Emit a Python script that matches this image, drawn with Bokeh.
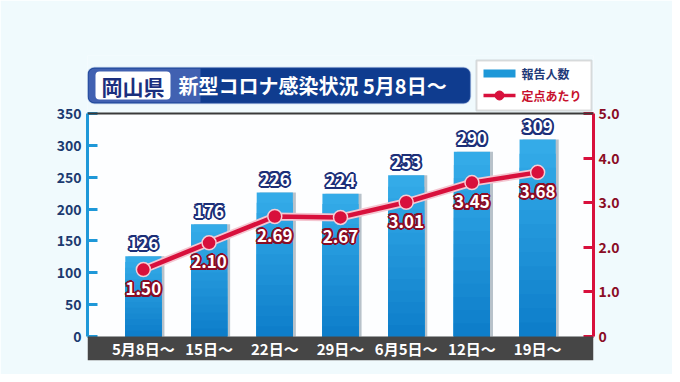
from bokeh.plotting import figure
from bokeh.models import (Range1d, LinearAxis, FixedTicker, BoxAnnotation, Label,
                          Span, ColumnDataSource, NumeralTickFormatter)
from bokeh.core.properties import value
from bokeh.embed import file_html
from bokeh.resources import INLINE

# ---------------- data ----------------
categories = ["5月8日～", "15日～", "22日～", "29日～", "6月5日～", "12日～", "19日～"]
reports = [126, 176, 226, 224, 253, 290, 309]          # 報告人数
per_site = [1.50, 2.10, 2.69, 2.67, 3.01, 3.45, 3.68]   # 定点あたり
left_ticks = [0, 50, 100, 150, 200, 250, 300, 350]
right_ticks = [0, 1.0, 2.0, 3.0, 4.0, 5.0]

FONT = "Noto Sans CJK JP"
NAVY = "#1c2f78"
BLUE = "#1e98d8"
RED = "#d8103c"
DARKRED = "#8a0c24"

# ---------------- layout (image pixels) ----------------
FL, FW = 87, 506          # frame left / width
FT, FH = 55, 305          # frame top / height
X0, X1 = -0.85, 6.85
Y0, Y1 = -37.67, 441.0
RATIO = 70.0              # left units per right unit


def dx(px):
    return X0 + (px - FL) / FW * (X1 - X0)


def dy(py):
    return Y1 - (py - FT) / FH * (Y1 - Y0)


p = figure(frame_width=FW, frame_height=FH,
           min_border_left=FL, min_border_right=79,
           min_border_top=FT, min_border_bottom=14,
           x_range=Range1d(X0, X1), y_range=Range1d(Y0, Y1),
           output_backend="svg", toolbar_location=None, tools="")
p.extra_y_ranges = {"right": Range1d(Y0 / RATIO, Y1 / RATIO)}

p.background_fill_color = "#f0fafd"
p.border_fill_color = "#f0fafd"
p.outline_line_color = None
p.xgrid.visible = False
p.ygrid.visible = False
p.xaxis.visible = False

# white chart area
p.add_layout(BoxAnnotation(bottom=0, top=350, fill_color="#fdfeff", fill_alpha=1,
                           line_color=None, level="underlay"))

# ---------------- axes ----------------
ya = p.yaxis[0]
ya.bounds = (0, 350)
ya.ticker = FixedTicker(ticks=left_ticks)
ya.axis_line_color = BLUE
ya.axis_line_width = 3
ya.major_tick_line_color = BLUE
ya.major_tick_line_width = 3
ya.major_tick_in = 10
ya.major_tick_out = 0
ya.minor_tick_line_color = None
ya.major_label_text_font = FONT
ya.major_label_text_font_style = "bold"
ya.major_label_text_font_size = "14px"
ya.major_label_text_color = "#1c3a70"
ya.major_label_standoff = 6

ra = LinearAxis(y_range_name="right", bounds=(0, 5),
                ticker=FixedTicker(ticks=right_ticks),
                formatter=NumeralTickFormatter(format="0.0"))
ra.major_label_overrides = {0: "0"}
ra.axis_line_color = RED
ra.axis_line_width = 3
ra.major_tick_line_color = RED
ra.major_tick_line_width = 3
ra.major_tick_in = 10
ra.major_tick_out = 0
ra.minor_tick_line_color = None
ra.major_label_text_font = FONT
ra.major_label_text_font_style = "bold"
ra.major_label_text_font_size = "14px"
ra.major_label_text_color = DARKRED
ra.major_label_standoff = 5
p.add_layout(ra, "right")

# top line of chart
p.add_layout(Span(location=350, dimension="width", line_color="#3a3a3a", line_width=2))

# ---------------- bars ----------------
xs = list(range(len(categories)))
src = ColumnDataSource(dict(x=xs, cat=categories, rep=reports, ps=per_site,
                            ps_l=[v * RATIO for v in per_site],
                            rep_lbl=[str(v) for v in reports],
                            ps_lbl=["%.2f" % v for v in per_site],
                            xsh=[x + 3 / FW * (X1 - X0) for x in xs]))

BW = 0.55
p.vbar(x="xsh", top="rep", width=BW, source=src, fill_color="#b8c2ca", line_color=None)

# vertical gradient: light at top, darker towards the bottom
N = 14
top_c = (0x34, 0xab, 0xe8)
bot_c = (0x0b, 0x7b, 0xc8)
for k in range(N):
    f = k / N
    c = tuple(int(round(top_c[i] + (bot_c[i] - top_c[i]) * f)) for i in range(3))
    col = "#%02x%02x%02x" % c
    tops = [v * (1 - f) for v in reports]
    p.vbar(x=xs, top=tops, width=BW, fill_color=col, line_color=None)

# ---------------- line ----------------
p.line(x="x", y="ps", source=src, y_range_name="right", line_color="#f4c6d1", line_width=8)
p.line(x="x", y="ps", source=src, y_range_name="right", line_color=RED, line_width=4.5)
p.scatter(x="x", y="ps", source=src, y_range_name="right", size=14,
          fill_color=RED, line_color="#f6cdd6", line_width=1.5)

# ---------------- value labels (outlined text) ----------------
OFFS = [(-2, 0), (2, 0), (0, -2), (0, 2), (-1.5, -1.5), (1.5, -1.5), (-1.5, 1.5), (1.5, 1.5)]


def outlined(ycol, tcol, yoff, ocol):
    for ox, oy in OFFS:
        p.text(x="x", y=ycol, text=tcol, source=src, text_align="center",
               text_baseline="middle", x_offset=ox, y_offset=yoff + oy,
               text_font=value(FONT), text_font_style="bold", text_font_size="17px",
               text_color=ocol)
    p.text(x="x", y=ycol, text=tcol, source=src, text_align="center",
           text_baseline="middle", y_offset=yoff, text_font=value(FONT),
           text_font_style="bold", text_font_size="17px", text_color="white")


outlined("rep", "rep_lbl", -13, NAVY)
outlined("ps_l", "ps_lbl", 19, DARKRED)

# ---------------- category band ----------------
p.add_layout(BoxAnnotation(top=0, fill_color="#464646", fill_alpha=1, line_color=None))
p.text(x="x", y=Y0 / 2, text="cat", source=src, text_align="center",
       text_baseline="middle", text_font=value(FONT), text_font_style="bold",
       text_font_size="15px", text_color="white", level="overlay")

# ---------------- title box ----------------
p.add_layout(BoxAnnotation(left=dx(87), right=dx(470), top=dy(67), bottom=dy(103),
                           fill_color="#0f3c8f", fill_alpha=1, line_color="#6d8ccc",
                           line_width=1.5, border_radius=7))
p.add_layout(BoxAnnotation(left=dx(88), right=dx(200), top=dy(68), bottom=dy(102),
                           fill_color="#4161b1", fill_alpha=1, line_color=None,
                           border_radius=(6, 0, 0, 6)))
p.add_layout(BoxAnnotation(left=dx(95), right=dx(170), top=dy(71), bottom=dy(99),
                           fill_color="white", fill_alpha=1, line_color=None,
                           border_radius=4))
p.add_layout(Label(x=dx(132.5), y=dy(85), text="岡山県", text_align="center",
                   text_baseline="middle", text_font=FONT, text_font_style="bold",
                   text_font_size="21px", text_color="#1b2f7e"))
p.add_layout(Label(x=dx(178), y=dy(85), text="新型コロナ感染状況 5月8日～",
                   text_align="left", text_baseline="middle", text_font=FONT,
                   text_font_style="bold", text_font_size="20px", text_color="white"))

# ---------------- legend ----------------
p.add_layout(BoxAnnotation(left=dx(476), right=dx(591), top=dy(60), bottom=dy(110),
                           fill_color="white", fill_alpha=1, line_color="#8a8a8a",
                           line_width=2))
p.add_layout(BoxAnnotation(left=dx(483), right=dx(515), top=dy(69), bottom=dy(77),
                           fill_color=BLUE, fill_alpha=1, line_color=None))
p.add_layout(Label(x=dx(521), y=dy(73), text="報告人数", text_align="left",
                   text_baseline="middle", text_font=FONT, text_font_style="bold",
                   text_font_size="12px", text_color="#1f3a78"))
p.segment(x0=[dx(483)], y0=[dy(95)], x1=[dx(515)], y1=[dy(95)], line_color=RED,
          line_width=3.5, level="overlay")
p.scatter(x=[dx(499)], y=[dy(95)], size=9, fill_color=RED, line_color=RED, level="overlay")
p.add_layout(Label(x=dx(521), y=dy(95), text="定点あたり", text_align="left",
                   text_baseline="middle", text_font=FONT, text_font_style="bold",
                   text_font_size="12px", text_color="#c8102e"))

open("out.html", "w").write(file_html(p, INLINE))
